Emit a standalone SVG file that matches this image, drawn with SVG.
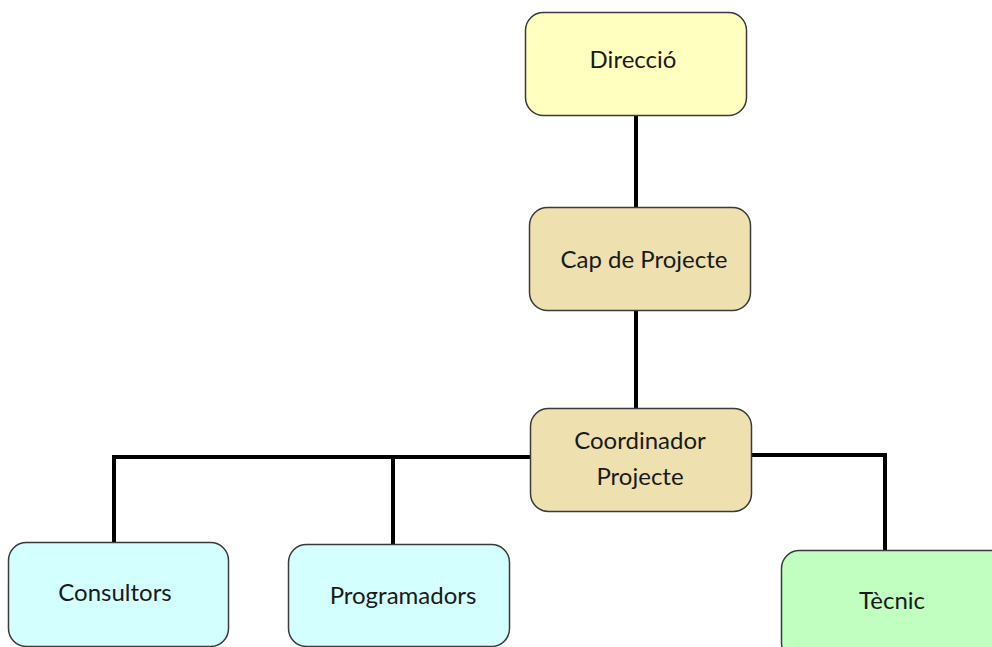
<svg xmlns="http://www.w3.org/2000/svg" width="992" height="647" viewBox="0 0 992 647">
<style>
.box{stroke:#3a3a3a;stroke-width:1.5}
.t{font-family:Lato,"Liberation Sans",sans-serif;font-size:24px;fill:#1a1a1a;text-anchor:middle}
.c{fill:none;stroke:#000;stroke-width:4}
</style>
<rect width="992" height="647" fill="#fff"/>
<g id="connectors">
<line class="c" x1="636" y1="116" x2="636" y2="207"/>
<line class="c" x1="636" y1="311" x2="636" y2="408"/>
<polyline class="c" points="114,542 114,457 530,457"/>
<line class="c" x1="393" y1="457" x2="393" y2="545"/>
<polyline class="c" points="752,455 885,455 885,551"/>
</g>
<g id="direccio">
<rect class="box" x="525.5" y="12.5" width="221" height="103" rx="18" fill="#FFFFC0"/>
<text class="t" x="633" y="68">Direcció</text>
</g>
<g id="cap">
<rect class="box" x="529.5" y="207.5" width="221" height="103" rx="18" fill="#EEE1AF"/>
<text class="t" x="644" y="268">Cap de Projecte</text>
</g>
<g id="coordinador">
<rect class="box" x="530.5" y="408.5" width="221" height="103" rx="18" fill="#EEE1AF"/>
<text class="t" x="640" y="449">Coordinador</text>
<text class="t" x="640" y="485">Projecte</text>
</g>
<g id="consultors">
<rect class="box" x="8.5" y="542.5" width="220" height="104" rx="18" fill="#D4FFFF"/>
<text class="t" x="115" y="601">Consultors</text>
</g>
<g id="programadors">
<rect class="box" x="288.5" y="544.5" width="221" height="102" rx="18" fill="#D4FFFF"/>
<text class="t" x="403" y="604">Programadors</text>
</g>
<g id="tecnic">
<rect class="box" x="781.5" y="550.5" width="230" height="110" rx="18" fill="#C0FFC0"/>
<text class="t" x="892" y="609">Tècnic</text>
</g>
</svg>
